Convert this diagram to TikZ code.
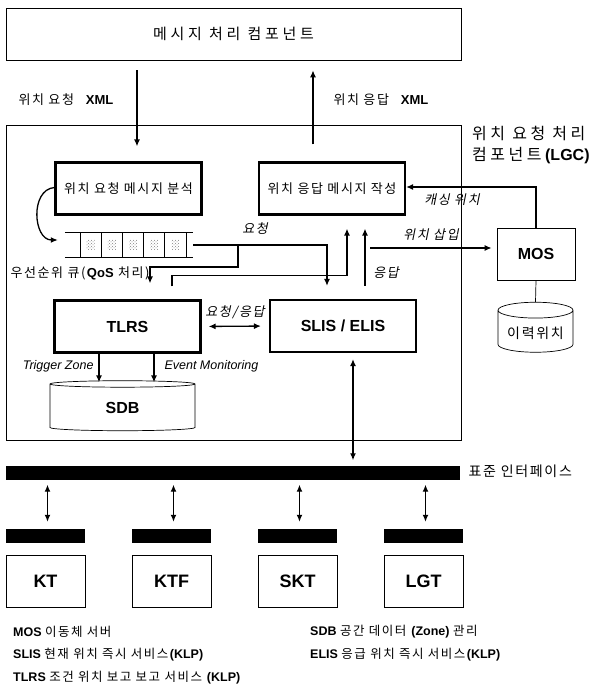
\documentclass[tikz,border=0pt]{standalone}
\usepackage{fontspec}
\setmainfont{Liberation Sans}
\newfontfamily\kr[LetterSpace=12]{Noto Sans CJK KR}
\newfontfamily\krwide[LetterSpace=25]{Noto Sans CJK KR}
\newfontfamily\krtitle[LetterSpace=22]{Noto Sans CJK KR}
\newfontfamily\krit[LetterSpace=12,FakeSlant=0.2]{Noto Sans CJK KR}
\usetikzlibrary{shapes.geometric,patterns,arrows.meta}

\begin{document}
\begin{tikzpicture}[x=1pt, y=-1pt, >={Latex[length=7pt,width=6pt]},
    frame/.style={draw, line width=0.7pt},
    box/.style={draw, line width=2.2pt, minimum width=146pt, minimum height=52pt, font=\kr\fontsize{13}{15}\selectfont},
    db/.style={draw, line width=0.7pt, cylinder, shape border rotate=90, font=\bfseries\fontsize{16}{18}\selectfont},
    conn/.style={line width=1.3pt},
    cell/.style={draw, line width=1pt, minimum width=21.2pt, minimum height=24pt, inner sep=0pt,
        path picture={\fill[pattern=crosshatch dots, pattern color=gray]
            ([shift={(-4pt,-5pt)}]path picture bounding box.center) rectangle ++(8pt,10pt);}},
    bar/.style={fill=black, inner sep=0pt, minimum height=14pt},
    telco/.style={frame, minimum width=79pt, minimum height=52pt, font=\bfseries\fontsize{18}{20}\selectfont},
    lbl/.style={font=\kr\fontsize{13}{15}\selectfont},
    itlbl/.style={font=\krit\fontsize{13}{15}\selectfont},
    entag/.style={font=\itshape\fontsize{12.5}{14}\selectfont},
    legend/.style={anchor=west, inner sep=0pt, font=\fontsize{12.5}{14}\selectfont}
]
    \useasboundingbox (0,0) rectangle (590,692);

    % Message handling component and the LGC frame
    \node[frame, minimum width=455pt, minimum height=52pt, font=\krwide\fontsize{15}{17}\selectfont]
        (msg) at (233.5,34) {메시지 처리 컴포넌트};
    \node[frame, minimum width=455pt, minimum height=315pt] (lgc) at (233.5,282.5) {};
    \node[anchor=north west, align=left, inner sep=0pt, font=\krtitle\fontsize{16}{21}\selectfont]
        (lgctitle) at (472,126) {위치 요청 처리\\컴포넌트\textbf{\rmfamily(LGC)}};

    % XML in and out
    \coordinate (xreq) at (137,0);
    \coordinate (xres) at (313,0);
    \node[lbl, anchor=west] (reqlbl) at (15,100) {위치 요청\hspace{12pt}{\rmfamily\bfseries XML}};
    \node[lbl, anchor=west] (reslbl) at (330,100) {위치 응답\hspace{12pt}{\rmfamily\bfseries XML}};

    % Boxes inside the LGC
    \node[box] (parse) at (128.5,188.5) {위치 요청 메시지 분석};
    \node[box] (build) at (332,188.5) {위치 응답 메시지 작성};
    \node[box, font=\bfseries\fontsize{16}{18}\selectfont] (tlrs) at (127.5,326.5) {TLRS};
    \node[box, font=\bfseries\fontsize{16}{18}\selectfont] (slis) at (343,326) {SLIS / ELIS};
    \node[db, aspect=0.16, minimum width=145pt, minimum height=50pt] (sdb) at (122.5,408) {SDB};

    % Priority queue
    \node[minimum width=128pt, minimum height=24pt, inner sep=0pt] (queue) at (129,245) {};
    \draw[line width=1.3pt] (queue.north west) -- (queue.north east)
        (queue.south west) -- (queue.south east);
    \foreach \i in {1,...,5}
        \node[cell] (q\i) at ({69.4+21.2*\i},245) {};
    \node[lbl, anchor=west] (qlbl) at (7,273) {우선순위 큐(\textbf{\rmfamily QoS} 처리)};

    % MOS and history DB
    \node[frame, minimum width=78pt, minimum height=52pt, font=\bfseries\fontsize{16}{18}\selectfont]
        (mos) at (536,254) {MOS};
    \node[db, aspect=0.25, minimum width=75pt, minimum height=50pt, font=\kr\fontsize{14}{16}\selectfont]
        (hist) at (535.5,333) {이력위치};

    % Connectors
    \draw[conn, ->, shorten <=10pt, shorten >=15pt] (msg.south -| xreq) -- (parse.north -| xreq);
    \draw[conn, ->, shorten <=17pt, shorten >=10pt] (build.north -| xres) -- (msg.south -| xres);
    \draw[conn, ->] ([yshift=1pt]parse.west) to[out=185, in=180, looseness=1.2]
        ([xshift=-7pt, yshift=5pt]queue.west);
    \draw[conn, ->, shorten >=13pt] (queue.east) -| ([xshift=-16pt]slis.north);
    \coordinate (qsplit) at (238,245);
    \draw[conn, ->, shorten >=16pt] (qsplit) -- ++(0,22) -| ([xshift=22.5pt]tlrs.north);
    \draw[conn, ->, shorten <=13pt, shorten >=13pt] ([xshift=44.5pt]tlrs.north) -- ++(0,-24)
        -| ([xshift=15pt]build.south);
    \draw[conn, ->, shorten <=13pt, shorten >=13pt] ([xshift=22pt]slis.north) -- ([xshift=33pt]build.south);
    \draw[conn, <->, shorten <=7pt, shorten >=8pt] (tlrs.east) -- (slis.west);
    \draw[conn, ->] ([xshift=-28.5pt]tlrs.south) -- ([xshift=-23.5pt, yshift=-2pt]sdb.north);
    \draw[conn, ->] ([xshift=26.5pt]tlrs.south) -- ([xshift=31.5pt, yshift=-2pt]sdb.north);
    \coordinate (insert) at (370,248);
    \draw[conn, ->, shorten >=5pt] (insert) -- (insert -| mos.west);
    \draw[conn, ->] (mos.north) |- ([yshift=1.5pt]build.east);
    \draw[line width=0.7pt] (mos.south) -- (hist.north);

    % Connector labels
    \node[itlbl] (reqtag) at (255,229) {요청};
    \node[itlbl] (restag) at (386,273) {응답};
    \node[itlbl] (rrtag) at (235,312) {요청/응답};
    \node[itlbl] (instag) at (431,235) {위치 삽입};
    \node[itlbl] (cachetag) at (452,200) {캐싱 위치};
    \node[entag, anchor=east] (trig) at (97,366) {Trigger Zone};
    \node[entag, anchor=west] (evt) at (161,366) {Event Monitoring};

    % Standard interface bus and the carriers
    \node[bar, minimum width=454pt] (bus) at (233,472.5) {};
    \node[lbl, anchor=west, font=\kr\fontsize{14}{16}\selectfont] (buslbl) at (465,471) {표준 인터페이스};
    \coordinate (slisdown) at ([xshift=10pt]slis.south);
    \draw[conn, <->, shorten <=6pt, shorten >=5pt] (slisdown) -- (bus.north -| slisdown);
    \foreach \x/\name/\txt in {45.5/kt/KT, 171.5/ktf/KTF, 297.5/skt/SKT, 423.5/lgt/LGT}
    {
        \node[bar, minimum width=79pt] (p\name) at (\x,536) {};
        \node[telco] (\name) at (\x,581) {\txt};
        \coordinate (a\name) at ([xshift=2pt]p\name.north);
        \draw[conn, <->, shorten <=5pt, shorten >=7pt] (bus.south -| a\name) -- (a\name);
    }

    % Legend
    \node[legend] (lmos) at (13,632) {\textbf{MOS} {\kr 이동체 서버}};
    \node[legend] (lslis) at (13,655) {\textbf{SLIS} {\kr 현재 위치 즉시 서비스}\textbf{(KLP)}};
    \node[legend] (ltlrs) at (13,678) {\textbf{TLRS} {\kr 조건 위치 보고 보고 서비스} \textbf{(KLP)}};
    \node[legend] (lsdb) at (310,632) {\textbf{SDB} {\kr 공간 데이터} \textbf{(Zone)} {\kr 관리}};
    \node[legend] (lelis) at (310,655) {\textbf{ELIS} {\kr 응급 위치 즉시 서비스}\textbf{(KLP)}};

\end{tikzpicture}
\end{document}
